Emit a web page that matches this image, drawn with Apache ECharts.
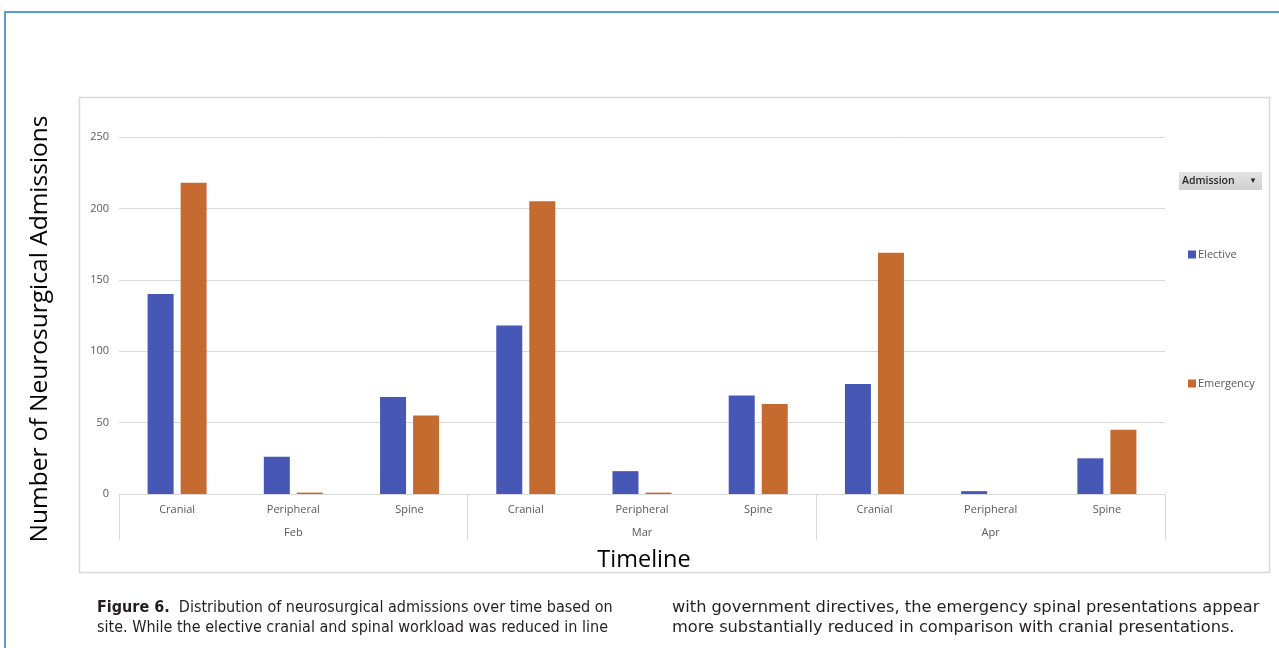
<!DOCTYPE html>
<html>
<head>
<meta charset="utf-8">
<script src="https://cdn.jsdelivr.net/npm/echarts@6/dist/echarts.min.js"></script>
<style>
  html, body { margin: 0; padding: 0; background: #fff; }
  #wrap { position: relative; width: 1279px; height: 648px; overflow: hidden; background: #fff; }
  #chart { position: absolute; left: 0; top: 0; width: 1279px; height: 648px; }
  .bl { position: absolute; background: #5b9bd5; }
  .cap { position: absolute; font-family: "Liberation Sans Narrow", "DejaVu Sans Condensed", "Liberation Sans", sans-serif; font-size: 16px; line-height: 20px; color: #231f20; white-space: nowrap; }
  .cap b { font-weight: bold; }
  .cap.wide { transform: scaleX(1.127); transform-origin: 0 0; }
</style>
</head>
<body>
<div id="wrap">
  <div id="chart"></div>
  <div class="bl" style="left:4px; top:11px; width:1275px; height:2px;"></div>
  <div class="bl" style="left:4px; top:11px; width:2px; height:637px;"></div>
  <div class="cap" style="left:97px; top:597px;"><b>Figure 6.</b>&nbsp; Distribution of neurosurgical admissions over time based on<br>site. While the elective cranial and spinal workload was reduced in line</div>
  <div class="cap wide" style="left:672px; top:597px;">with government directives, the emergency spinal presentations appear<br>more substantially reduced in comparison with cranial presentations.</div>
</div>
<script>
const categories = ['Cranial', 'Peripheral', 'Spine', 'Cranial', 'Peripheral', 'Spine', 'Cranial', 'Peripheral', 'Spine'];
const months = ['Feb', 'Mar', 'Apr'];
const elective = [140, 26, 68, 118, 16, 69, 77, 2, 25];
const emergency = [218, 1, 55, 205, 1, 63, 169, 0, 45];
const yTicks = { min: 0, max: 250, interval: 50 };

const chart = echarts.init(document.getElementById('chart'));
const labelFont = 'Open Sans';
chart.setOption({
  animation: false,
  backgroundColor: 'transparent',
  grid: { left: 119, right: 114, top: 137, bottom: 154, containLabel: false },
  legend: {
    orient: 'vertical',
    left: 1188,
    top: 249,
    padding: 0,
    itemWidth: 8,
    itemHeight: 8,
    itemGap: 118,
    icon: 'rect',
    textStyle: { fontFamily: labelFont, fontSize: 11, color: '#595959', padding: [0, 0, 0, -3] },
    data: ['Elective', 'Emergency']
  },
  xAxis: [
    {
      type: 'category',
      data: categories,
      axisLine: { show: true, lineStyle: { color: '#d9d9d9', width: 1 } },
      axisTick: { show: false },
      axisLabel: { margin: 10, fontFamily: labelFont, fontSize: 11, color: '#595959', interval: 0 }
    },
    {
      type: 'category',
      data: months,
      position: 'bottom',
      offset: 0,
      axisLine: { show: false },
      axisTick: { show: true, length: 46, lineStyle: { color: '#d9d9d9', width: 1 } },
      axisLabel: { margin: 33, fontFamily: labelFont, fontSize: 11, color: '#595959' },
      splitLine: { show: false }
    }
  ],
  yAxis: {
    type: 'value',
    min: yTicks.min,
    max: yTicks.max,
    interval: yTicks.interval,
    axisLine: { show: false },
    axisTick: { show: false },
    axisLabel: { margin: 10, fontFamily: labelFont, fontSize: 11, color: '#595959' },
    splitLine: { lineStyle: { color: '#d9d9d9', width: 1 } }
  },
  series: [
    {
      name: 'Elective', type: 'bar', data: elective, barWidth: 26, barGap: '27%',
      itemStyle: { color: '#4757b6' }
    },
    {
      name: 'Emergency', type: 'bar', data: emergency, barWidth: 26, barGap: '27%',
      itemStyle: { color: '#c56b30' }
    }
  ],
  graphic: [
    { type: 'rect', shape: { x: 79.5, y: 97.5, width: 1190, height: 475 }, style: { fill: 'none', stroke: '#d9d9d9', lineWidth: 1.5 }, silent: true, z: -1 },
    { type: 'text', x: 40, y: 329, rotation: Math.PI / 2, style: { text: 'Number of Neurosurgical Admissions', fontFamily: labelFont, fontSize: 24.5, fill: '#000', textAlign: 'center', textVerticalAlign: 'middle' } },
    { type: 'text', x: 644, y: 560, style: { text: 'Timeline', fontFamily: labelFont, fontSize: 23.5, fill: '#000', textAlign: 'center', textVerticalAlign: 'middle' } },
    { type: 'rect', shape: { x: 1179, y: 172, width: 83, height: 18 }, style: { fill: new echarts.graphic.LinearGradient(0, 0, 0, 1, [{ offset: 0, color: '#e4e4e4' }, { offset: 1, color: '#cfcfcf' }]) } },
    { type: 'text', x: 1182, y: 181, style: { text: 'Admission', fontFamily: labelFont, fontSize: 10.5, fontWeight: 600, fill: '#262626', textVerticalAlign: 'middle' } },
    { type: 'text', x: 1253, y: 181, style: { text: '▾', fontFamily: 'DejaVu Sans', fontSize: 9, fill: '#262626', textAlign: 'center', textVerticalAlign: 'middle' } }
  ]
});
</script>
</body>
</html>
